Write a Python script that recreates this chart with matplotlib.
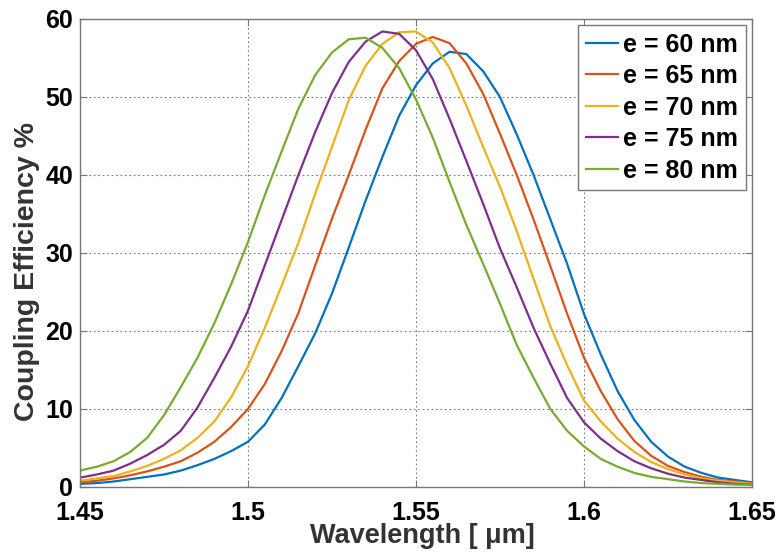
import numpy as np
import matplotlib.pyplot as plt

plt.rcParams['font.family'] = ['Liberation Sans', 'DejaVu Sans']
plt.rcParams['font.weight'] = 'bold'

# wavelength samples (um), every 0.005
wl = [1.450, 1.455, 1.460, 1.465, 1.470, 1.475, 1.480, 1.485, 1.490, 1.495,
      1.500, 1.505, 1.510, 1.515, 1.520, 1.525, 1.530, 1.535, 1.540, 1.545,
      1.550, 1.555, 1.560, 1.565, 1.570, 1.575, 1.580, 1.585, 1.590, 1.595,
      1.600, 1.605, 1.610, 1.615, 1.620, 1.625, 1.630, 1.635, 1.640, 1.645,
      1.650]

e60 = [0.4, 0.5, 0.7, 1.0, 1.3, 1.6, 2.1, 2.8, 3.6, 4.6,
       5.8, 8.0, 11.4, 15.5, 19.7, 24.8, 30.7, 36.7, 42.3, 47.6,
       51.5, 54.3, 55.8, 55.5, 53.3, 50.0, 45.2, 40.0, 34.3, 28.6,
       22.2, 17.0, 12.3, 8.6, 5.8, 3.9, 2.6, 1.8, 1.2, 0.9,
       0.6]
e65 = [0.6, 0.8, 1.1, 1.5, 2.0, 2.6, 3.3, 4.4, 5.8, 7.7,
       10.0, 13.2, 17.4, 22.3, 28.4, 34.4, 40.0, 45.8, 51.1, 54.6,
       56.8, 57.7, 56.9, 54.3, 50.4, 45.3, 40.0, 34.3, 28.3, 22.2,
       16.6, 12.3, 8.7, 5.9, 4.0, 2.7, 1.9, 1.3, 0.9, 0.7,
       0.5]
e70 = [0.8, 1.1, 1.4, 2.0, 2.7, 3.6, 4.7, 6.3, 8.4, 11.5,
       15.5, 20.4, 25.8, 31.3, 37.6, 43.6, 49.6, 54.0, 56.8, 58.3,
       58.4, 57.0, 53.7, 48.9, 43.6, 38.5, 32.8, 26.7, 20.6, 15.6,
       11.1, 8.4, 6.2, 4.5, 3.2, 2.3, 1.6, 1.1, 0.8, 0.6,
       0.4]
e75 = [1.2, 1.6, 2.1, 3.0, 4.1, 5.4, 7.2, 10.2, 14.0, 18.0,
       22.6, 28.4, 34.2, 40.0, 45.5, 50.5, 54.5, 57.1, 58.4, 58.1,
       56.0, 52.3, 47.2, 41.8, 36.3, 30.6, 25.6, 20.4, 15.8, 11.4,
       8.3, 6.2, 4.6, 3.3, 2.4, 1.7, 1.2, 0.9, 0.6, 0.4,
       0.3]
e80 = [2.1, 2.6, 3.3, 4.5, 6.3, 9.2, 12.8, 16.6, 21.0, 26.0,
       31.4, 37.4, 43.0, 48.5, 52.8, 55.7, 57.4, 57.6, 56.3, 53.7,
       49.7, 44.8, 39.1, 33.6, 28.6, 23.5, 18.2, 14.0, 10.0, 7.2,
       5.2, 3.6, 2.6, 1.8, 1.3, 1.0, 0.7, 0.5, 0.4, 0.3,
       0.3]

series = [e60, e65, e70, e75, e80]
labels = ['e = 60 nm', 'e = 65 nm', 'e = 70 nm', 'e = 75 nm', 'e = 80 nm']
colors = ['#0072BD', '#D95319', '#EDB120', '#7E2F8E', '#77AC30']

fig = plt.figure(figsize=(7.81, 5.57), dpi=100)
ax = fig.add_axes([0.1024, 0.1257, 0.8604, 0.8402])

for y, lab, c in zip(series, labels, colors):
    ax.plot(wl, y, color=c, lw=1.6, label=lab)

ax.set_xlim(1.45, 1.65)
ax.set_ylim(0, 60)
ax.set_xticks([1.45, 1.5, 1.55, 1.6, 1.65])
ax.set_xticklabels(['1.45', '1.5', '1.55', '1.6', '1.65'])
ax.set_yticks([0, 10, 20, 30, 40, 50, 60])

ax.grid(True, linestyle=(0, (1.5, 2.5)), color='#777777', lw=0.8)
ax.tick_params(direction='in', length=5, top=True, right=True,
               labelsize=18, colors='#777777', labelcolor='black')
ax.tick_params(axis='x', pad=10)
ax.tick_params(axis='y', pad=5)
for lbl in ax.get_xticklabels() + ax.get_yticklabels():
    lbl.set_fontweight('bold')
for s in ax.spines.values():
    s.set_color('#777777')
    s.set_linewidth(1.0)

ax.set_xlabel('Wavelength [ \u03bcm]', fontsize=19.5, fontweight='bold',
              color='#333333')
ax.set_ylabel('Coupling Efficiency %', fontsize=20.5, fontweight='bold',
              color='#333333')
ax.xaxis.set_label_coords(0.51, -0.076)
ax.yaxis.set_label_coords(-0.06, 0.46)

leg = ax.legend(loc='upper right', fontsize=18, handlelength=1.3,
                handletextpad=0.2, borderpad=0.3, labelspacing=0.3,
                fancybox=False, framealpha=1, borderaxespad=0.25)
leg.get_frame().set_edgecolor('#777777')
for t in leg.get_texts():
    t.set_fontweight('bold')

fig.savefig('out.png', dpi=100)
